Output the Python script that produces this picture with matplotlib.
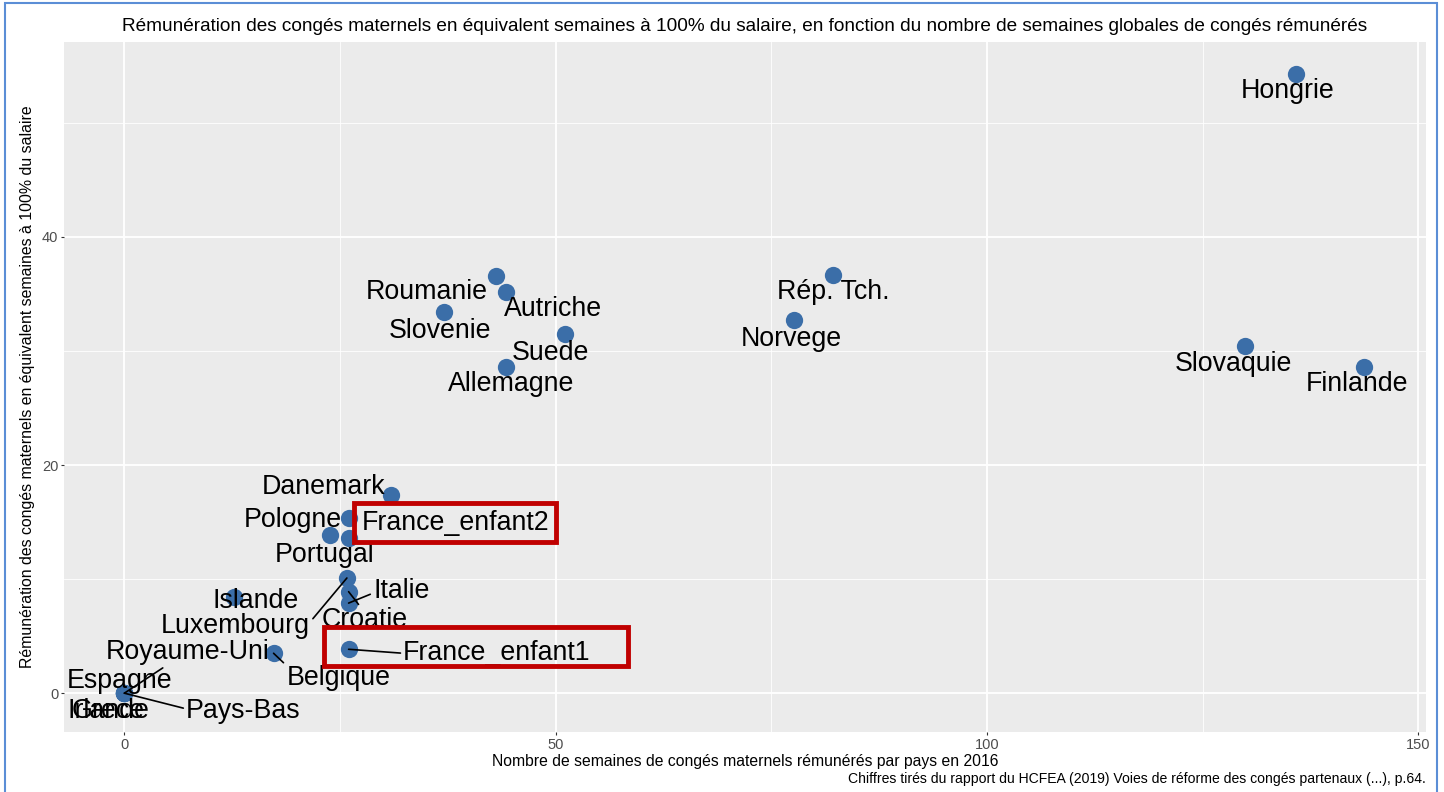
import matplotlib.pyplot as plt
from matplotlib.patches import Rectangle

# données (semaines rémunérées, équivalent semaines à 100%)
pays = ["Hongrie", "Rép. Tch.", "Norvege", "Slovaquie", "Finlande",
        "Roumanie", "Autriche", "Slovenie", "Suede", "Allemagne",
        "Danemark", "Pologne", "France_enfant2", "Portugal",
        "Luxembourg", "Croatie", "Italie", "Islande",
        "Belgique", "France_enfant1",
        "Royaume-Uni", "Espagne", "Pays-Bas", "Grece", "Irlande"]
semaines = [135.8, 82.2, 77.6, 129.9, 143.7,
            43.1, 44.3, 37.1, 51.1, 44.3,
            30.9, 26.0, 26.0, 23.9,
            25.8, 26.0, 26.0, 12.7,
            17.3, 26.0,
            0.0, 0.0, 0.0, 0.0, 0.0]
equiv_100 = [54.3, 36.7, 32.7, 30.4, 28.6,
             36.6, 35.2, 33.4, 31.5, 28.6,
             17.4, 15.4, 13.6, 13.9,
             10.1, 8.9, 7.9, 8.4,
             3.5, 3.85,
             0.0, 0.0, 0.0, 0.0, 0.0]

# placement des étiquettes (façon ggrepel) : position du texte, et point d'attache du segment
label_pos = {
    "Hongrie": (134.9, 52.8), "Rép. Tch.": (82.2, 35.2), "Norvege": (77.3, 31.1),
    "Slovaquie": (128.6, 28.9), "Finlande": (142.9, 27.1), "Roumanie": (35.1, 35.2),
    "Autriche": (49.7, 33.7), "Slovenie": (36.6, 31.8), "Suede": (49.4, 29.8),
    "Allemagne": (44.9, 27.1), "Danemark": (23.1, 18.1), "Pologne": (19.5, 15.2),
    "France_enfant2": (38.4, 14.9), "Portugal": (23.2, 12.1), "Italie": (32.1, 9.0),
    "Islande": (15.2, 8.1), "Croatie": (27.9, 6.4), "Luxembourg": (12.9, 5.9),
    "Royaume-Uni": (7.3, 3.6), "France_enfant1": (43.2, 3.5), "Espagne": (-0.5, 1.1),
    "Belgique": (24.8, 1.3), "Pays-Bas": (13.8, -1.6), "Grece": (-1.9, -1.6),
    "Irlande": (-1.9, -1.6),
}
segments = {
    "Luxembourg": (1.0, 0.65), "Italie": (0.0, 0.4), "Croatie": (0.45, 1.0),
    "Royaume-Uni": (0.4, 0.1), "Pays-Bas": (0.0, 0.6), "Belgique": (0.0, 1.0),
    "France_enfant1": (0.0, 0.5),
}

plt.rcParams["font.family"] = ["Liberation Sans", "DejaVu Sans"]

fig = plt.figure(figsize=(14.44, 7.92), dpi=100)
ax = fig.add_axes([0.0443, 0.0758, 0.9432, 0.8712])
ax.set_facecolor("#EBEBEB")

ax.set_xlim(-7, 150.9)
ax.set_ylim(-3.4, 57.1)
ax.set_xticks([0, 50, 100, 150])
ax.set_yticks([0, 20, 40])
ax.set_xticks([25, 75, 125], minor=True)
ax.set_yticks([10, 30, 50], minor=True)
ax.grid(which="major", color="white", lw=1.3)
ax.grid(which="minor", color="white", lw=0.6)
ax.set_axisbelow(True)
for s in ax.spines.values():
    s.set_visible(False)
ax.tick_params(which="major", length=2.5, color="#333333", labelsize=10.5,
               labelcolor="#4D4D4D", pad=1.5)
ax.tick_params(which="minor", length=0)

ax.scatter(semaines, equiv_100, s=155, color="#3B6EA8", zorder=3, linewidths=0)

for nom, x, y in zip(pays, semaines, equiv_100):
    tx, ty = label_pos[nom]
    if nom in segments:
        ax.annotate(nom, xy=(x, y), xytext=(tx, ty), ha="center", va="center",
                    fontsize=19.3, zorder=4,
                    arrowprops=dict(arrowstyle="-", color="black", lw=1.2,
                                    shrinkA=0, shrinkB=0, relpos=segments[nom]))
    else:
        ax.text(tx, ty, nom, ha="center", va="center", fontsize=19.3, zorder=4)

# encadrés rouges autour des deux points France
ax.add_patch(Rectangle((26.6, 13.3), 23.4, 3.4, fill=False, ec="#C00000", lw=3.5, zorder=5))
ax.add_patch(Rectangle((23.1, 2.4), 35.3, 3.4, fill=False, ec="#C00000", lw=3.5, zorder=5))

ax.set_title("Rémunération des congés maternels en équivalent semaines à 100% du salaire, "
             "en fonction du nombre de semaines globales de congés rémunérés",
             fontsize=13.7, pad=8)
ax.set_xlabel("Nombre de semaines de congés maternels rémunérés par pays en 2016", fontsize=11.3, labelpad=2)
ax.set_ylabel("Rémunération des congés maternels en équivalent semaines à 100% du salaire", fontsize=11.4, labelpad=5)
fig.text(0.9875, 0.007, "Chiffres tirés du rapport du HCFEA (2019) Voies de réforme des congés partenaux (...), p.64.",
         ha="right", va="bottom", fontsize=10.1)

# cadre bleu autour de la figure
fig.add_artist(Rectangle((5 / 1444, -0.01), 1432 / 1444, 1.01 - 3 / 792, transform=fig.transFigure,
                         fill=False, ec="#5B8ED6", lw=1.5))

fig.savefig("out.png", dpi=100)
